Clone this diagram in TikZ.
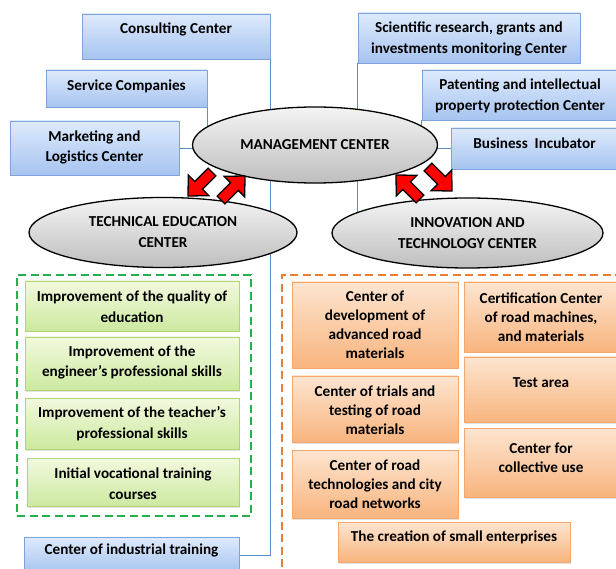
\documentclass[tikz,border=0pt]{standalone}
\usepackage{fontspec}
\setmainfont{Carlito}
\usetikzlibrary{shapes.geometric,shadows,fit}
\pgfdeclarelayer{background}
\pgfsetlayers{background,main}

\definecolor{bluetop}{RGB}{222,234,252}
\definecolor{bluebot}{RGB}{166,196,240}
\definecolor{blueedge}{RGB}{125,163,216}
\definecolor{greentop}{RGB}{242,249,222}
\definecolor{greenbot}{RGB}{204,233,160}
\definecolor{greenedge}{RGB}{178,211,120}
\definecolor{orangetop}{RGB}{253,229,208}
\definecolor{orangebot}{RGB}{248,180,126}
\definecolor{orangeedge}{RGB}{244,168,108}
\definecolor{framegreen}{RGB}{34,177,76}
\definecolor{frameorange}{RGB}{237,125,49}
\definecolor{linkblue}{RGB}{91,140,205}
\definecolor{elltop}{RGB}{244,244,244}
\definecolor{ellbot}{RGB}{190,190,190}

% box with a text block placed near its top
\newcommand\textbox[8]{%
  \node[#1, minimum width={(#5)-(#3)}, minimum height={(#6)-(#4)}] (#2)
    at ({((#3)+(#5))/2},{((#4)+(#6))/2}) {};
  \node[txt] (#2-t) at ({((#3)+(#5))/2},#7) {#8};
}

\begin{document}
\begin{tikzpicture}[x=1pt,y=-1pt,
  box/.style={draw, line width=0.6pt, inner sep=0,
    drop shadow={shadow xshift=1.2pt, shadow yshift=-1.5pt, opacity=0.22}},
  bluebox/.style={box, draw=blueedge, top color=bluetop, bottom color=bluebot},
  greenbox/.style={box, draw=greenedge, top color=greentop, bottom color=greenbot},
  orangebox/.style={box, draw=orangeedge, top color=orangetop, bottom color=orangebot},
  txt/.style={font=\fontsize{15.2}{20.5}\selectfont\bfseries, align=center, inner sep=0},
  ell/.style={ellipse, draw=black, line width=1.3pt, top color=elltop, bottom color=ellbot,
    inner sep=0, align=center, font=\fontsize{15.2}{21}\selectfont\bfseries},
  conn/.style={draw=linkblue, line width=0.8pt},
  frame/.style={line width=1.8pt, dash pattern=on 8pt off 4.5pt, inner sep=0},
  redarrow/.pic={\draw[fill=red, draw=black, line width=1.3pt, line join=miter]
    (-17,-5.5) -- (2,-5.5) -- (2,-14.5) -- (17,0) -- (2,14.5) -- (2,5.5) -- (-17,5.5) -- cycle;}
]
\useasboundingbox (0,0) rectangle (616,569);

% dashed group frames
\node[frame, draw=framegreen, fit={(17,275) (251,516)}] (gframe) {};
\node[frame, draw=frameorange, fit={(282,275) (640,600)}] (oframe) {};

% blue centres around the management centre
\textbox{bluebox}{cons}{82}{14}{270}{59}{29}{Consulting Center}
\textbox{bluebox}{serv}{46}{70}{207}{107}{86}{Service Companies}
\textbox{bluebox}{mkt}{10}{121}{179}{175}{147.5}{Marketing and\\Logistics Center}
\textbox{bluebox}{sci}{358}{13}{580}{63}{39}{Scientific research, grants and\\investments monitoring Center}
\textbox{bluebox}{pat}{422}{70}{618}{120}{96}{Patenting and intellectual\\property protection Center}
\textbox{bluebox}{inc}{451}{128}{618}{169}{143}{Business~ Incubator}
\textbox{bluebox}{ind}{24}{537}{239}{573}{550}{Center of industrial training}

% technical education units
\textbox{greenbox}{g1}{25}{281}{239}{331}{306.5}{Improvement of the quality of\\education}
\textbox{greenbox}{g2}{25}{337}{239}{390}{362.5}{Improvement of the\\engineer’s professional skills}
\textbox{greenbox}{g3}{25}{398}{239}{449}{423.5}{Improvement of the teacher’s\\professional skills}
\textbox{greenbox}{g4}{27}{458}{239}{506}{483.5}{Initial vocational training\\courses}

% innovation units
\tikzset{txt/.style={font=\fontsize{15.2}{19}\selectfont\bfseries, align=center, inner sep=0}}
\textbox{orangebox}{o1}{292}{282}{458}{368}{324.5}{Center of\\development of\\advanced road\\materials}
\textbox{orangebox}{o2}{464}{282}{618}{352}{317}{Certification Center\\of road machines,\\and materials}
\textbox{orangebox}{o3}{292}{376}{458}{442}{410}{Center of trials and\\testing of road\\materials}
\textbox{orangebox}{o4}{464}{357}{618}{422}{383}{Test area}
\textbox{orangebox}{o5}{292}{450}{458}{518}{484}{Center of road\\technologies and city\\road networks}
\textbox{orangebox}{o6}{464}{428}{618}{497}{457.5}{Center for\\collective use}
\textbox{orangebox}{o7}{338}{522}{570}{562}{537}{The creation of small enterprises}

% the three centres
\node[ell, minimum width=245, minimum height=76] (mgmt) at (315,145) {MANAGEMENT CENTER};
\node[ell, minimum width=268, minimum height=70] (tech) at (163,232.5) {TECHNICAL EDUCATION\\CENTER};
\node[ell, minimum width=271, minimum height=70] (innov) at (467.5,233) {INNOVATION AND\\TECHNOLOGY CENTER};

% links, kept behind the ellipses
\begin{pgfonlayer}{background}
  \draw[conn] (cons.south east) |- (ind.east);
  \draw[conn] (serv.south east) -- (serv.south east |- mgmt.center);
  \draw[conn] (mkt.east) -- (mkt.east -| mgmt.center);
  \draw[conn] (sci.south west) -- (sci.south west |- innov.center);
  \draw[conn] (pat.south west) |- (inc.west);
\end{pgfonlayer}

% exchange arrows between the centres
\pic[rotate=225] at (200,184) {redarrow};
\pic[rotate=45] at (233,188) {redarrow};
\pic[rotate=135] at (408,187) {redarrow};
\pic[rotate=-45] at (440,179) {redarrow};
\end{tikzpicture}
\end{document}
